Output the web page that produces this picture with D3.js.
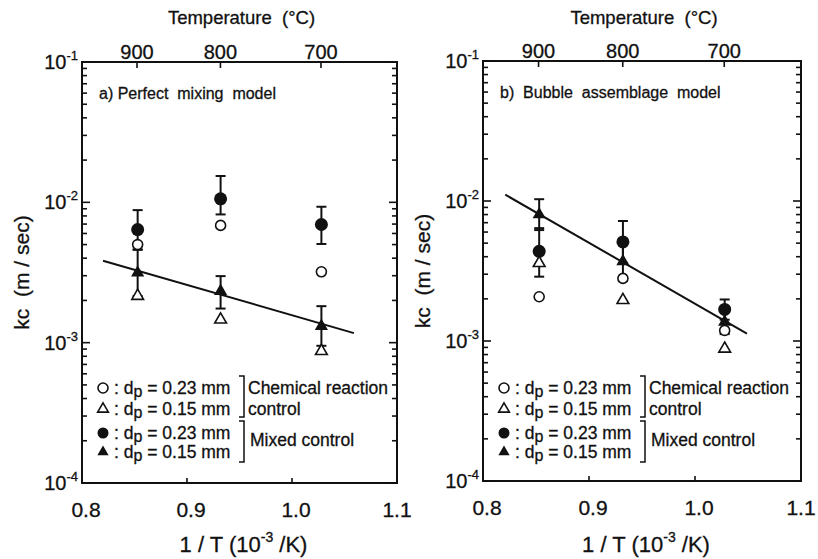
<!DOCTYPE html>
<html>
<head>
<meta charset="utf-8">
<script src="https://cdn.jsdelivr.net/npm/d3@7"></script>
<style>
  body { margin: 0; background: #fff; }
  text { font-family: "Liberation Sans", Arial, Helvetica, sans-serif; fill: #111; stroke: #111; stroke-width: 0.3px; }
</style>
</head>
<body>
<svg id="chart" width="818" height="559"></svg>
<script>
// x positions of the three runs (1/T, 10^-3 /K)
const invT = [0.853, 0.932, 1.028];

// top axis ticks (deg C) and bottom / left axis ticks
const tempTicks = [900, 800, 700];
const xTicks = [0.8, 0.9, 1.0, 1.1];
const yExps = [-1, -2, -3, -4];

// a) Perfect mixing model
const openCircleA = [5.0e-3, 6.85e-3, 3.2e-3];
const openTriA    = [2.15e-3, 1.46e-3, 8.7e-4];
const fillCircleA = [6.4e-3, 1.06e-2, 6.95e-3];
const fillCircleALow  = [4.6e-3, 8.2e-3, 5.05e-3];
const fillCircleAHigh = [8.8e-3, 1.54e-2, 9.3e-3];
const fillTriA    = [3.15e-3, 2.33e-3, 1.31e-3];
const fillTriALow  = [2.15e-3, 1.75e-3, 9.5e-4];
const fillTriAHigh = [4.6e-3, 2.98e-3, 1.82e-3];
const fitA = [[0.820, 3.84e-3], [1.059, 1.17e-3]];

// b) Bubble assemblage model
const openCircleB = [2.07e-3, 2.8e-3, 1.19e-3];
const openTriB    = [3.6e-3, 1.96e-3, 8.8e-4];
const fillCircleB = [4.37e-3, 5.1e-3, 1.68e-3];
const fillCircleBLow  = [2.88e-3, 3.6e-3, 1.42e-3];
const fillCircleBHigh = [6.4e-3, 7.2e-3, 1.98e-3];
const fillTriB    = [8.0e-3, 3.7e-3, 1.37e-3];
const fillTriBLow  = [6.2e-3, 2.7e-3, 1.12e-3];
const fillTriBHigh = [1.03e-2, 5.1e-3, 1.65e-3];
const fitB = [[0.821, 1.11e-2], [1.049, 1.13e-3]];

// legend
const legendRows = [
    {mark: "openCircle", size: "0.23"},
    {mark: "openTri",    size: "0.15"},
    {mark: "fillCircle", size: "0.23"},
    {mark: "fillTri",    size: "0.15"}
];

const svg = d3.select("#chart");

function drawPanel(opt) {
    const x = d3.scaleLinear().domain([0.8, 1.1]).range([opt.left, opt.right]);
    const y = d3.scaleLog().domain([1e-4, 1e-1]).range([opt.bottom, opt.top]);
    const g = svg.append("g");

    // frame
    g.append("rect")
        .attr("x", opt.left).attr("y", opt.top)
        .attr("width", opt.right - opt.left).attr("height", opt.bottom - opt.top)
        .attr("fill", "none").attr("stroke", "#111").attr("stroke-width", 2);

    // log ticks on left and right sides, pointing inward
    const logTicks = y.ticks();
    logTicks.forEach(v => {
        const major = Math.abs(Math.log10(v) - Math.round(Math.log10(v))) < 1e-6;
        const len = major ? 8 : 5;
        g.append("line").attr("x1", opt.left).attr("x2", opt.left + len)
            .attr("y1", y(v)).attr("y2", y(v)).attr("stroke", "#111").attr("stroke-width", 1.6);
        g.append("line").attr("x1", opt.right).attr("x2", opt.right - len)
            .attr("y1", y(v)).attr("y2", y(v)).attr("stroke", "#111").attr("stroke-width", 1.6);
    });

    // y tick labels 10^n
    yExps.forEach(e => {
        const t = g.append("text")
            .attr("x", opt.left - 4).attr("y", y(Math.pow(10, e)) + 7)
            .attr("text-anchor", "end").style("font-size", "20px");
        t.append("tspan").text("10");
        t.append("tspan").attr("dy", -9).style("font-size", "13px").text(e);
    });

    // bottom axis
    xTicks.forEach((v, i) => {
        if (v > 0.8 && v < 1.1) {
            g.append("line").attr("x1", x(v)).attr("x2", x(v))
                .attr("y1", opt.bottom).attr("y2", opt.bottom - 5)
                .attr("stroke", "#111").attr("stroke-width", 1.6);
        }
        const last = i === xTicks.length - 1;
        g.append("text").attr("x", x(v) + (last ? 0 : 4)).attr("y", opt.bottom + 34)
            .attr("text-anchor", "middle").style("font-size", "21px")
            .text(d3.format(".1f")(v));
    });

    // top axis: temperature
    tempTicks.forEach(tc => {
        const xv = x(1000 / (tc + 273.15));
        g.append("line").attr("x1", xv).attr("x2", xv)
            .attr("y1", opt.top).attr("y2", opt.top + 6)
            .attr("stroke", "#111").attr("stroke-width", 1.6);
        g.append("text").attr("x", xv).attr("y", opt.top - 3)
            .attr("text-anchor", "middle").style("font-size", "20px").text(tc);
    });

    const midX = (opt.left + opt.right) / 2;
    g.append("text").attr("x", midX + 2).attr("y", 24)
        .attr("text-anchor", "middle").style("font-size", "18.5px")
        .style("white-space", "pre").text("Temperature  (°C)");

    const xt = g.append("text").attr("x", midX + 4).attr("y", 552)
        .attr("text-anchor", "middle").style("font-size", "22px");
    xt.append("tspan").text("1 / T (10");
    xt.append("tspan").attr("dy", -10).style("font-size", "14px").text("-3");
    xt.append("tspan").attr("dy", 10).text(" /K)");

    g.append("text")
        .attr("transform", "translate(" + (opt.left - 53) + "," + ((opt.top + opt.bottom) / 2) + ") rotate(-90)")
        .attr("text-anchor", "middle").style("font-size", "21px")
        .style("white-space", "pre").text("kc  (m / sec)");

    // panel label
    g.append("text").attr("x", opt.left + 17).attr("y", opt.top + 37)
        .style("font-size", "16px").style("white-space", "pre").text(opt.label);

    // fitted line
    g.append("path")
        .attr("d", d3.line().x(d => x(d[0])).y(d => y(d[1]))(opt.fit))
        .attr("stroke", "#111").attr("stroke-width", 2).attr("fill", "none");

    // error bars
    function errorBars(vals, lo, hi) {
        vals.forEach((v, i) => {
            const xv = x(invT[i]);
            g.append("line").attr("x1", xv).attr("x2", xv)
                .attr("y1", y(lo[i])).attr("y2", y(hi[i]))
                .attr("stroke", "#111").attr("stroke-width", 2);
            [lo[i], hi[i]].forEach(c => {
                g.append("line").attr("x1", xv - 5).attr("x2", xv + 5)
                    .attr("y1", y(c)).attr("y2", y(c))
                    .attr("stroke", "#111").attr("stroke-width", 2);
            });
        });
    }
    errorBars(opt.fillCircle, opt.fillCircleLow, opt.fillCircleHigh);
    errorBars(opt.fillTri, opt.fillTriLow, opt.fillTriHigh);

    // markers
    function marks(vals, kind) {
        vals.forEach((v, i) => drawMark(g, kind, x(invT[i]), y(v)));
    }
    marks(opt.openCircle, "openCircle");
    marks(opt.openTri, "openTri");
    marks(opt.fillCircle, "fillCircle");
    marks(opt.fillTri, "fillTri");

    // legend
    const lx = opt.left + 21;
    const rowY = [388, 409, 433, 452];
    legendRows.forEach((r, i) => {
        drawMark(g, r.mark, lx, rowY[i], true);
        const t = g.append("text").attr("x", lx + 11).attr("y", rowY[i] + 6)
            .style("font-size", "17.5px");
        t.append("tspan").text(": d");
        t.append("tspan").attr("dy", 3).style("font-size", "16px").text("p");
        t.append("tspan").attr("dy", -3).text(" = " + r.size + " mm");
    });
    const bx = opt.left + 162;
    [[376, 417], [421, 462]].forEach(b => {
        g.append("path")
            .attr("d", "M" + (bx - 5) + "," + b[0] + "H" + bx + "V" + b[1] + "H" + (bx - 5))
            .attr("stroke", "#111").attr("stroke-width", 1.5).attr("fill", "none");
    });
    g.append("text").attr("x", bx + 4).attr("y", 394).style("font-size", "17.5px").text("Chemical reaction");
    g.append("text").attr("x", bx + 4).attr("y", 415).style("font-size", "17.5px").text("control");
    g.append("text").attr("x", bx + 6).attr("y", 446).style("font-size", "17.5px").text("Mixed control");
}

function drawMark(g, kind, cx, cy, legend) {
    const tri = d3.symbol().type(d3.symbolTriangle);
    if (kind === "openCircle") {
        g.append("circle").attr("cx", cx).attr("cy", cy).attr("r", 5)
            .attr("fill", "#fff").attr("stroke", "#111").attr("stroke-width", 1.6);
    } else if (kind === "fillCircle") {
        g.append("circle").attr("cx", cx).attr("cy", cy).attr("r", legend ? 5.5 : 6.5)
            .attr("fill", "#111");
    } else if (kind === "openTri") {
        g.append("path").attr("d", tri.size(legend ? 50 : 60)())
            .attr("transform", "translate(" + cx + "," + cy + ")")
            .attr("fill", "#fff").attr("stroke", "#111").attr("stroke-width", 1.6);
    } else {
        g.append("path").attr("d", tri.size(legend ? 55 : 75)())
            .attr("transform", "translate(" + cx + "," + cy + ")")
            .attr("fill", "#111");
    }
}

drawPanel({
    left: 82, right: 397, top: 62, bottom: 483,
    label: "a) Perfect  mixing  model",
    openCircle: openCircleA, openTri: openTriA,
    fillCircle: fillCircleA, fillCircleLow: fillCircleALow, fillCircleHigh: fillCircleAHigh,
    fillTri: fillTriA, fillTriLow: fillTriALow, fillTriHigh: fillTriAHigh,
    fit: fitA
});

drawPanel({
    left: 483, right: 801, top: 61, bottom: 481,
    label: "b)  Bubble  assemblage  model",
    openCircle: openCircleB, openTri: openTriB,
    fillCircle: fillCircleB, fillCircleLow: fillCircleBLow, fillCircleHigh: fillCircleBHigh,
    fillTri: fillTriB, fillTriLow: fillTriBLow, fillTriHigh: fillTriBHigh,
    fit: fitB
});
</script>
</body>
</html>
